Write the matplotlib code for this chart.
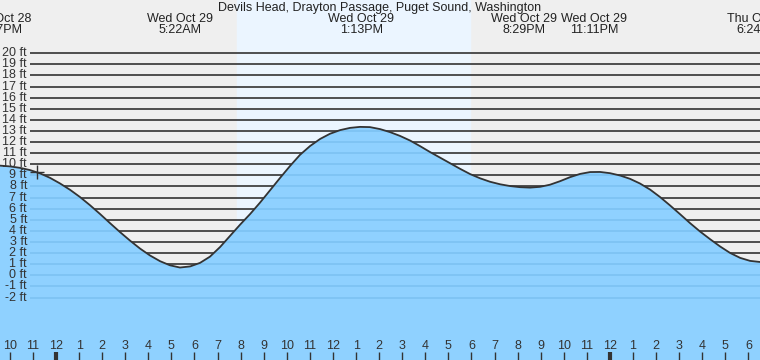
import matplotlib
matplotlib.use('Agg')
from matplotlib import pyplot as plt

TITLE = 'Devils Head, Drayton Passage, Puget Sound, Washington'

# hours from midnight Wed Oct 29, tide height in feet
tide_hours = [-2.43, -1.99, -1.56, -1.13, -0.69, -0.26, 0.17, 0.61, 1.04, 1.47,
              1.91, 2.34, 2.77, 3.21, 3.64, 4.07, 4.51, 4.94, 5.37, 5.81,
              6.24, 6.67, 7.11, 7.54, 7.97, 8.41, 8.84, 9.27, 9.71, 10.14,
              10.57, 11.01, 11.44, 11.87, 12.31, 12.74, 13.17, 13.60, 14.04, 14.47,
              14.90, 15.34, 15.77, 16.20, 16.64, 17.07, 17.50, 17.94, 18.37, 18.80,
              19.24, 19.67, 20.10, 20.54, 20.97, 21.40, 21.84, 22.27, 22.70, 23.14,
              23.57, 24.00, 24.44, 24.87, 25.30, 25.74, 26.17, 26.60, 27.04, 27.47,
              27.90, 28.34, 28.77, 29.20, 29.64, 30.07, 30.50]
tide_ft = [9.88, 9.81, 9.68, 9.48, 9.18, 8.78, 8.28, 7.70, 7.05, 6.32,
           5.52, 4.70, 3.90, 3.12, 2.41, 1.79, 1.27, 0.90, 0.70, 0.80,
           1.12, 1.68, 2.55, 3.55, 4.55, 5.52, 6.55, 7.65, 8.78, 9.85,
           10.85, 11.65, 12.28, 12.75, 13.08, 13.28, 13.37, 13.35, 13.17, 12.90,
           12.56, 12.14, 11.64, 11.11, 10.60, 10.10, 9.60, 9.12, 8.74, 8.43,
           8.20, 8.04, 7.94, 7.90, 7.97, 8.16, 8.48, 8.84, 9.13, 9.30,
           9.31, 9.20, 8.99, 8.69, 8.27, 7.72, 7.05, 6.30, 5.50, 4.70,
           3.95, 3.25, 2.60, 2.02, 1.57, 1.30, 1.20]

event_days = ['Tue Oct 28', 'Wed Oct 29', 'Wed Oct 29', 'Wed Oct 29', 'Wed Oct 29', 'Thu Oct 30']
event_times = ['9:37PM', '5:22AM', '1:13PM', '8:29PM', '11:11PM', '6:24AM']
event_hours = [-2.38, 5.37, 13.22, 20.48, 23.18, 30.40]
label_nudge = [0, 0, 0, -5, 3, 0]  # px, keeps the two close labels apart

sunrise = 7.84
sunset = 17.94
now_hour = -0.82
now_ft = 9.27

levels = list(range(-2, 21))
hour_ticks = list(range(-2, 31))

W, H = 760, 360
X0, X1 = -2.426, 30.50
Y0, Y1 = -7.63, 24.8
FONT = ['Liberation Sans', 'DejaVu Sans']
INK = '#333333'


def main():
    plt.rcParams['font.family'] = FONT
    fig = plt.figure(figsize=(W / 100, H / 100), dpi=100)
    ax = fig.add_axes([0, 0, 1, 1])
    ax.set_xlim(X0, X1)
    ax.set_ylim(Y0, Y1)
    ax.axis('off')
    ax.add_patch(plt.Rectangle((0, 0), 1, 1, transform=ax.transAxes, color='#efefef', zorder=0))
    ax.axvspan(sunrise, sunset, color='#ebf5ff', zorder=0.5)

    ytr = ax.get_yaxis_transform()
    xtr = ax.get_xaxis_transform()
    ax.hlines(levels, 30 / W, 1, transform=ytr, color=INK, lw=1.2, zorder=1)

    # water, with the grid showing faintly through it
    water = ax.fill_between(tide_hours, tide_ft, Y0 - 5, color='#8fd1ff', lw=0, zorder=2)
    under = ax.hlines(levels, 30 / W, 1, transform=ytr, color='#7cc2f2', lw=1.2, zorder=3)
    under.set_clip_path(water.get_paths()[0], ax.transData)

    ax.plot(tide_hours, tide_ft, color=INK, lw=1.3, zorder=4, solid_joinstyle='round')
    ax.plot([now_hour], [now_ft], marker='+', ms=10, mew=1.0, color=INK, zorder=5)

    for v in levels:
        ax.text(27 / W, v, '{} ft'.format(v), transform=ytr, ha='right', va='center',
                fontsize=9, color=INK, zorder=6)

    for h in hour_ticks:
        lw = 3 if h % 24 == 0 else 1
        ax.vlines(h, 0, 8 / H, transform=xtr, color=INK, lw=lw, zorder=6)
        ax.text(h, 14 / H, str(h % 12 or 12), transform=xtr, ha='center', va='center',
                fontsize=9, color=INK, zorder=6)

    ax.text(0.5, 1 - 8 / H, TITLE, transform=ax.transAxes, ha='center', va='center',
            fontsize=9, color='#222222', zorder=6)
    for day, t, h, dx in zip(event_days, event_times, event_hours, label_nudge):
        xf = (h - X0) / (X1 - X0) + dx / W
        ax.text(xf, 1 - 19 / H, day, transform=ax.transAxes, ha='center', va='center',
                fontsize=9, color='#222222', zorder=6)
        ax.text(xf, 1 - 30 / H, t, transform=ax.transAxes, ha='center', va='center',
                fontsize=9, color='#222222', zorder=6)

    fig.savefig('out.png', dpi=100)


if __name__ == '__main__':
    main()
